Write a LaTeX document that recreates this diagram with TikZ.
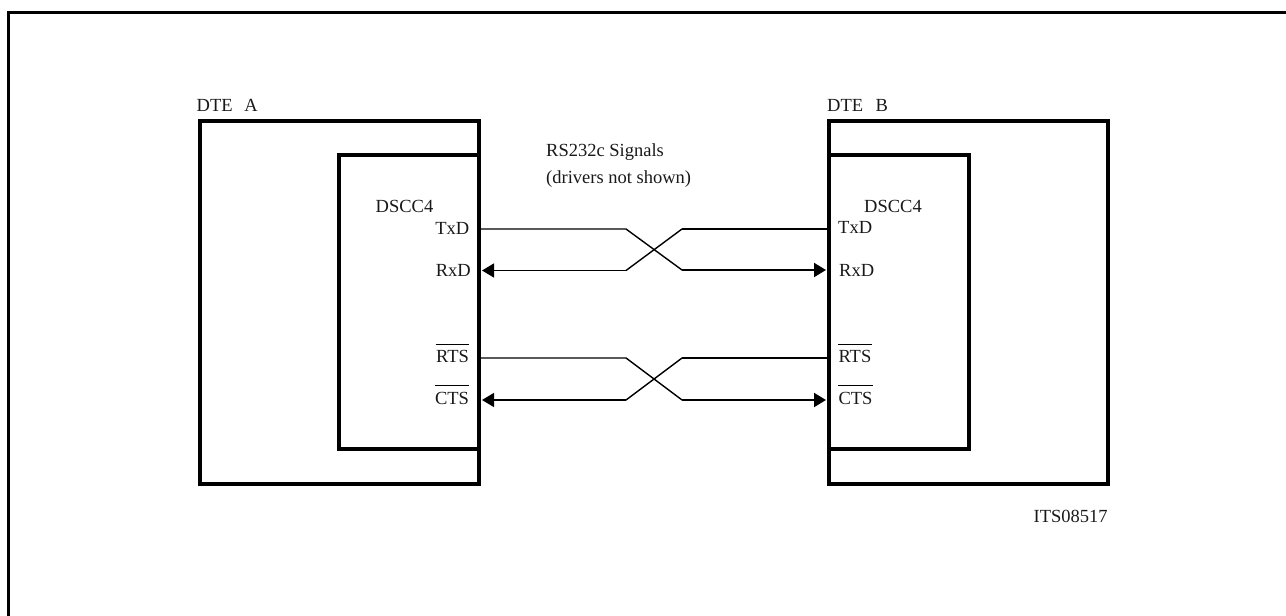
\documentclass[tikz,border=0pt]{standalone}
\usepackage{fontspec}
\setmainfont{Liberation Serif}
\usetikzlibrary{arrows.meta}
\tikzset{
  thick box/.style={draw=black,line width=3.6pt,fill=none},
  frameline/.style={draw=black,line width=2.4pt},
  signal/.style={draw=black,line width=1.4pt},
  heavy/.style={draw=black,line width=2pt},
  txt/.style={inner sep=0pt,font=\fontsize{18.5pt}{22pt}\selectfont,text=black!90},
  tip/.style={-{Triangle[length=12pt,width=14pt]}}
}
\newcommand{\barred}[1]{\tikz[baseline=0pt]{\node[inner sep=0pt,anchor=base] (w) at (0,0) {#1};\draw[black,line width=1.2pt] ([yshift=18.4pt]w.base west) -- ([yshift=18.4pt]w.base east);}}
\begin{document}
\begin{tikzpicture}[x=1pt,y=-1pt]
\useasboundingbox (0,0) rectangle (1286,616);
\draw[frameline] (8.5,616) -- (8.5,12.5) -- (1286,12.5);
\node[draw=none,inner sep=0pt] (aTL) at (200,121) {};
\node[draw=none,inner sep=0pt] (aBR) at (479,484) {};
\node[draw=none,inner sep=0pt] (bTL) at (829,121) {};
\node[draw=none,inner sep=0pt] (bBR) at (1108,484) {};
\draw[thick box] (aTL) rectangle (aBR);
\draw[thick box] (bTL) rectangle (bBR);
\draw[thick box] (479,155) -- (339,155) -- (339,449) -- (479,449);
\draw[thick box] (829,155) -- (969,155) -- (969,449) -- (829,449);
\node[txt,anchor=base west] (dtea) at (196.5,111) {DTE\hspace{11.8pt}A};
\node[txt,anchor=base west] (dteb) at (827,111) {DTE\hspace{12.5pt}B};
\node[txt,anchor=base west] (rs1) at (546,156) {RS232c Signals};
\node[txt,anchor=base west] (rs2) at (546,183.5) {(drivers not shown)};
\node[txt,anchor=base west] (da) at (375.5,212) {DSCC4};
\node[txt,anchor=base west] (db) at (864,212) {DSCC4};
\node[txt,anchor=base east] (txa) at (469.5,234) {TxD};
\node[txt,anchor=base east] (rxa) at (471,276.5) {RxD};
\node[txt,anchor=base east] (rtsa) at (470,362.5) {\barred{RTS}};
\node[txt,anchor=base east] (ctsa) at (470,404) {\barred{CTS}};
\node[txt,anchor=base west] (txb) at (838,233.5) {TxD};
\node[txt,anchor=base west] (rxb) at (839,276) {RxD};
\node[txt,anchor=base west] (rtsb) at (837.5,362.5) {\barred{RTS}};
\node[txt,anchor=base west] (ctsb) at (837.5,404) {\barred{CTS}};
\node[txt,anchor=base west] (its) at (1033.5,522) {ITS08517};
\node[inner sep=0pt] (a1) at (481,229) {}; \node[inner sep=0pt] (a2) at (482,270.5) {};
\node[inner sep=0pt] (b1) at (827,229) {}; \node[inner sep=0pt] (b2) at (826,270) {};
\node[inner sep=0pt] (a3) at (481,358) {}; \node[inner sep=0pt] (a4) at (482,400) {};
\node[inner sep=0pt] (b3) at (827,358) {}; \node[inner sep=0pt] (b4) at (826,400) {};
\node[inner sep=0pt] (ca1) at (626,229) {}; \node[inner sep=0pt] (ca2) at (626,270.5) {};
\node[inner sep=0pt] (cb1) at (682,229) {}; \node[inner sep=0pt] (cb2) at (682,270) {};
\node[inner sep=0pt] (ca3) at (626,358) {}; \node[inner sep=0pt] (ca4) at (626,400) {};
\node[inner sep=0pt] (cb3) at (682,358) {}; \node[inner sep=0pt] (cb4) at (682,400) {};
\draw[signal] (a1.center) -- (ca1.center) -- (cb2.center);
\draw[heavy,tip] (cb2.center) -- (b2.center);
\draw[heavy] (b1.center) -- (cb1.center);
\draw[signal] (cb1.center) -- (ca2.center);
\draw[signal,tip] (ca2.center) -- (a2.center);
\draw[signal] (a3.center) -- (ca3.center) -- (cb4.center);
\draw[heavy,tip] (cb4.center) -- (b4.center);
\draw[heavy] (b3.center) -- (cb3.center);
\draw[signal] (cb3.center) -- (ca4.center);
\draw[signal,tip] (ca4.center) -- (a4.center);
\end{tikzpicture}
\end{document}
